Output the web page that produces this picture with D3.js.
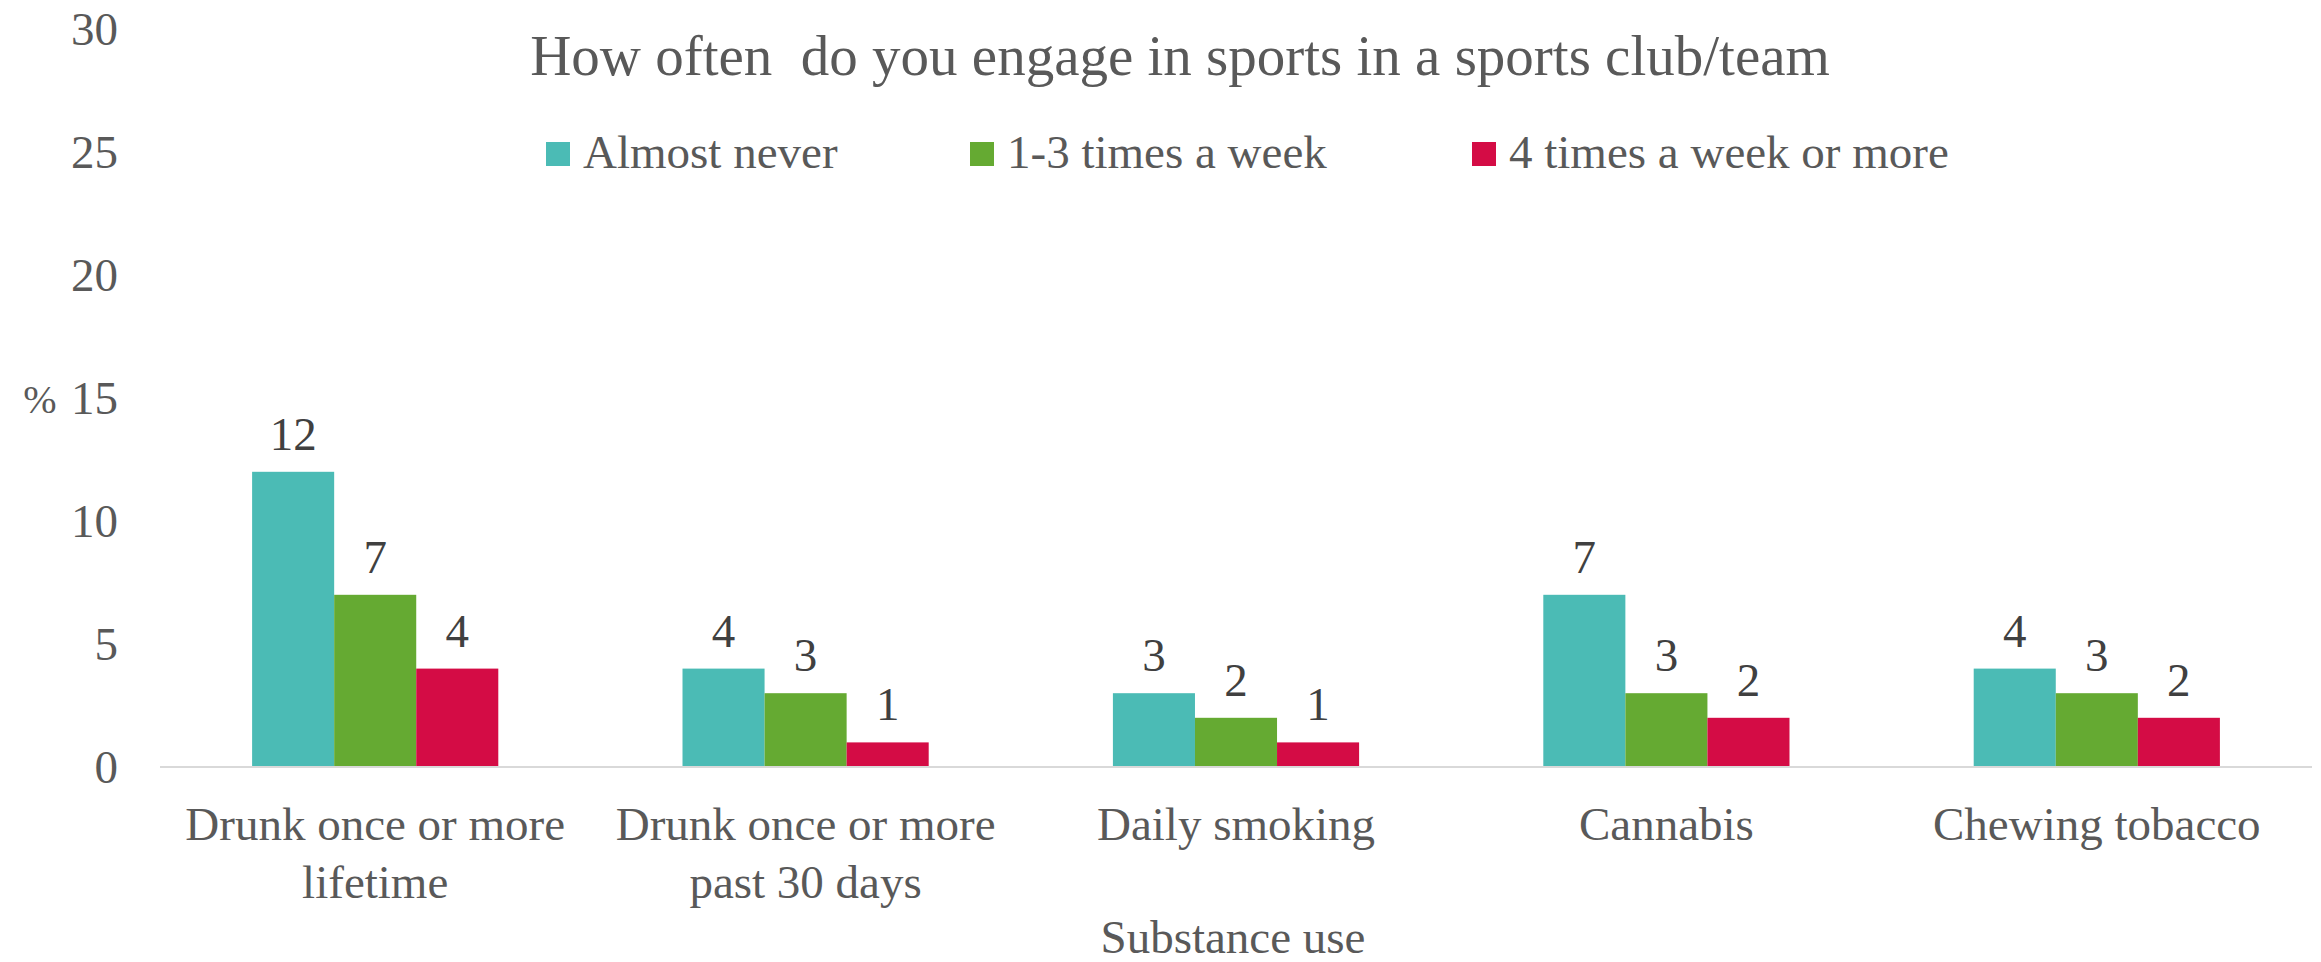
<!DOCTYPE html>
<html>
  <head>
    <script src="https://d3js.org/d3.v7.min.js"></script>
  </head>
  <body style="margin:0">
    <svg width="2321" height="962"></svg>
    <script>
      // data
      var categories = ["Drunk once or more lifetime", "Drunk once or more past 30 days", "Daily smoking", "Cannabis", "Chewing tobacco"];
      var categoryLines = [["Drunk once or more", "lifetime"], ["Drunk once or more", "past 30 days"], ["Daily smoking"], ["Cannabis"], ["Chewing tobacco"]];
      var seriesNames = ["Almost never", "1-3 times a week", "4 times a week or more"];
      var almostNever = [12, 4, 3, 7, 4];
      var oneToThree = [7, 3, 2, 3, 3];
      var fourOrMore = [4, 1, 1, 2, 2];
      var yTicks = [0, 5, 10, 15, 20, 25, 30];
      var colors = ["#4BBBB5", "#65AA32", "#D40C45"];

      var seriesValues = [almostNever, oneToThree, fourOrMore];
      var FONT = "Liberation Serif";
      var svg = d3.select("svg");

      var x0 = d3.scaleBand().domain(categories).range([160, 2312]).paddingInner(0.428).paddingOuter(0.214);
      var x1 = d3.scaleBand().domain(seriesNames).range([0, x0.bandwidth()]);
      var y = d3.scaleLinear().domain([0, 30]).range([767, 29]);

      // y axis
      var yAxis = svg.append("g")
          .attr("transform", "translate(160,0)")
          .call(d3.axisLeft(y).tickValues(yTicks).tickSize(0).tickPadding(42));
      yAxis.select(".domain").remove();
      yAxis.attr("font-family", FONT).attr("font-size", 47);
      yAxis.selectAll("text").style("font-family", FONT).style("font-size", "47px").attr("fill", "#595959");

      svg.append("text")
          .attr("x", 40).attr("y", 400).attr("dy", "0.32em")
          .attr("text-anchor", "middle")
          .attr("fill", "#595959")
          .style("font-family", FONT)
          .style("font-size", "40px")
          .text("%");

      // bars
      var groups = svg.selectAll(".grp")
          .data(categories)
          .enter().append("g")
          .attr("class", "grp")
          .attr("transform", function(d) { return "translate(" + x0(d) + ",0)"; });

      groups.each(function(c, ci) {
        var g = d3.select(this);
        seriesNames.forEach(function(s, si) {
          var v = seriesValues[si][ci];
          g.append("rect")
              .attr("x", x1(s))
              .attr("y", y(v))
              .attr("width", x1.bandwidth())
              .attr("height", y(0) - y(v))
              .attr("fill", colors[si]);
          g.append("text")
              .attr("x", x1(s) + x1.bandwidth() / 2)
              .attr("y", y(v) - 22)
              .attr("text-anchor", "middle")
              .attr("fill", "#404040")
              .style("font-family", FONT)
              .style("font-size", "47px")
              .text(v);
        });
      });

      // x axis
      var xAxis = svg.append("g")
          .attr("transform", "translate(0,767)")
          .call(d3.axisBottom(x0).tickSize(0).tickSizeOuter(0).tickFormat(""));
      xAxis.attr("font-family", FONT).attr("font-size", 47);
      xAxis.select(".domain").attr("stroke", "#D9D9D9").attr("stroke-width", 2)
          .attr("d", "M160,0H2312");
      xAxis.selectAll(".tick text").each(function(d, i) {
        var t = d3.select(this).attr("y", 0).attr("dy", null)
            .style("font-family", FONT).style("font-size", "47px").attr("fill", "#595959");
        categoryLines[i].forEach(function(line, li) {
          t.append("tspan").attr("x", 0).attr("y", 73 + li * 58).text(line);
        });
      });

      svg.append("text")
          .attr("x", 1233).attr("y", 953)
          .attr("text-anchor", "middle")
          .attr("fill", "#595959")
          .style("font-family", FONT)
          .style("font-size", "47px")
          .text("Substance use");

      // title
      svg.append("text")
          .attr("x", 1180).attr("y", 75)
          .attr("text-anchor", "middle")
          .attr("fill", "#595959")
          .style("font-family", FONT)
          .style("font-size", "57px")
          .style("white-space", "pre")
          .text("How often  do you engage in sports in a sports club/team");

      // legend
      var legendX = [546, 970, 1472];
      var legend = svg.selectAll(".leg")
          .data(seriesNames)
          .enter().append("g")
          .attr("class", "leg")
          .attr("transform", function(d, i) { return "translate(" + legendX[i] + ",142)"; });
      legend.append("rect").attr("width", 24).attr("height", 24)
          .attr("fill", function(d, i) { return colors[i]; });
      legend.append("text").attr("x", 37).attr("y", 10).attr("dy", "0.35em")
          .attr("fill", "#595959")
          .style("font-family", FONT)
          .style("font-size", "47px")
          .text(function(d) { return d; });
    </script>
  </body>
</html>
